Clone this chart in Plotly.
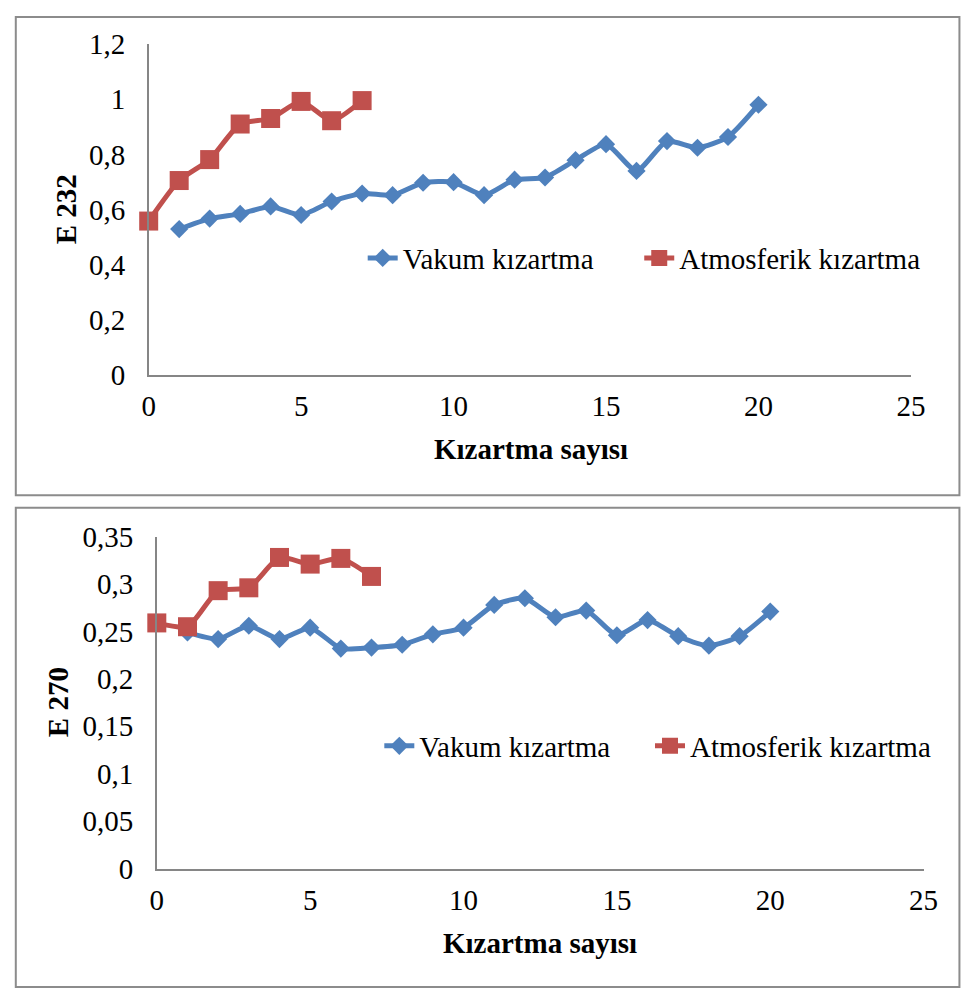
import plotly.graph_objects as go

W, H = 965, 1005

# ---- data ----
x_vakum = list(range(1, 21))
e232_vakum = [0.529, 0.567, 0.584, 0.611, 0.580, 0.629, 0.658, 0.652, 0.697, 0.699,
              0.652, 0.708, 0.716, 0.779, 0.837, 0.740, 0.848, 0.824, 0.863, 0.980]
x_atm = list(range(0, 8))
e232_atm = [0.558, 0.705, 0.781, 0.910, 0.930, 0.992, 0.922, 0.995]

e270_vakum = [0.249, 0.242, 0.256, 0.242, 0.254, 0.232, 0.233, 0.236, 0.247, 0.254,
              0.278, 0.285, 0.265, 0.272, 0.246, 0.262, 0.245, 0.235, 0.245, 0.271]
e270_atm = [0.259, 0.255, 0.293, 0.296, 0.328, 0.321, 0.327, 0.308]

name_vakum = "Vakum kızartma"
name_atm = "Atmosferik kızartma"
x_title = "Kızartma sayısı"
y_title_top = "E 232"
y_title_bot = "E 270"

BLUE = "#4F81BD"
RED = "#C0504D"
AXIS = "#868686"
FONT = "Liberation Serif"
FS = 29


def px_x(p):
    return p / W


def px_y(p):
    return 1 - p / H


fig = go.Figure()

common_line = dict(width=5, shape="spline", smoothing=0.6)

fig.add_trace(go.Scatter(x=x_vakum, y=e232_vakum, name=name_vakum, mode="lines+markers",
                         line=dict(color=BLUE, **common_line),
                         marker=dict(symbol="diamond", size=14, color=BLUE, line=dict(width=0)),
                         xaxis="x", yaxis="y", legend="legend", cliponaxis=False))
fig.add_trace(go.Scatter(x=x_atm, y=e232_atm, name=name_atm, mode="lines+markers",
                         line=dict(color=RED, **common_line),
                         marker=dict(symbol="square", size=19, color=RED, line=dict(width=0)),
                         xaxis="x", yaxis="y", legend="legend3", cliponaxis=False))
fig.add_trace(go.Scatter(x=x_vakum, y=e270_vakum, name=name_vakum, mode="lines+markers",
                         line=dict(color=BLUE, **common_line),
                         marker=dict(symbol="diamond", size=14, color=BLUE, line=dict(width=0)),
                         xaxis="x2", yaxis="y2", legend="legend2", cliponaxis=False))
fig.add_trace(go.Scatter(x=x_atm, y=e270_atm, name=name_atm, mode="lines+markers",
                         line=dict(color=RED, **common_line),
                         marker=dict(symbol="square", size=19, color=RED, line=dict(width=0)),
                         xaxis="x2", yaxis="y2", legend="legend4", cliponaxis=False))

axis_common = dict(showline=True, linecolor=AXIS, linewidth=1.5, showgrid=False, zeroline=False,
                   ticks="", tickfont=dict(family=FONT, size=FS, color="black"), fixedrange=True)


def leg(xp, yp):
    return dict(orientation="h", x=px_x(xp), y=px_y(yp), xanchor="left", yanchor="middle",
                bgcolor="rgba(0,0,0,0)", font=dict(family=FONT, size=FS, color="black"),
                itemclick=False, itemdoubleclick=False)


fig.update_layout(
    width=W, height=H,
    margin=dict(l=0, r=0, t=0, b=0),
    paper_bgcolor="white", plot_bgcolor="white",
    separators=", ",
    font=dict(family=FONT, size=FS, color="black"),
    xaxis=dict(domain=[px_x(145), px_x(925)], range=[0, 25], dtick=5, tick0=0,
               anchor="y", ticklabelstandoff=5, **axis_common),
    yaxis=dict(domain=[px_y(370.7), px_y(29)], range=[0, 1.2], dtick=0.2, tick0=0,
               anchor="x", ticklabelstandoff=16, **axis_common),
    xaxis2=dict(domain=[px_x(153.3), px_x(938)], range=[0, 25], dtick=5, tick0=0,
                anchor="y2", ticklabelstandoff=5, **axis_common),
    yaxis2=dict(domain=[px_y(880.7), px_y(537.7)], range=[0, 0.35], dtick=0.05, tick0=0,
                anchor="x2", ticklabelstandoff=16, **axis_common),
    legend=leg(364, 250),
    legend3=leg(647, 250),
    legend2=leg(381, 754),
    legend4=leg(658, 754),
    showlegend=True,
)

# chart frames
fig.add_shape(type="rect", xref="paper", yref="paper", x0=px_x(9), x1=1.01,
              y0=px_y(495), y1=px_y(1), line=dict(color="#8c8c8c", width=2), layer="below")
fig.add_shape(type="rect", xref="paper", yref="paper", x0=px_x(9), x1=1.01,
              y0=px_y(1003), y1=px_y(508), line=dict(color="#8c8c8c", width=2), layer="below")

# axis titles
fig.add_annotation(text="<b>%s</b>" % x_title, xref="paper", yref="paper",
                   x=px_x(536), y=px_y(447), showarrow=False, xanchor="center", yanchor="middle",
                   font=dict(family=FONT, size=FS, color="black"))
fig.add_annotation(text="<b>%s</b>" % x_title, xref="paper", yref="paper",
                   x=px_x(545), y=px_y(957), showarrow=False, xanchor="center", yanchor="middle",
                   font=dict(family=FONT, size=FS, color="black"))
fig.add_annotation(text="<b>%s</b>" % y_title_top, xref="paper", yref="paper",
                   x=px_x(60), y=px_y(200), showarrow=False, textangle=-90,
                   xanchor="center", yanchor="middle", font=dict(family=FONT, size=FS, color="black"))
fig.add_annotation(text="<b>%s</b>" % y_title_bot, xref="paper", yref="paper",
                   x=px_x(53), y=px_y(709), showarrow=False, textangle=-90,
                   xanchor="center", yanchor="middle", font=dict(family=FONT, size=FS, color="black"))

fig.write_html("out.html", config={"displayModeBar": False},
               post_script="document.body.style.margin='0';document.body.style.overflow='hidden';")
